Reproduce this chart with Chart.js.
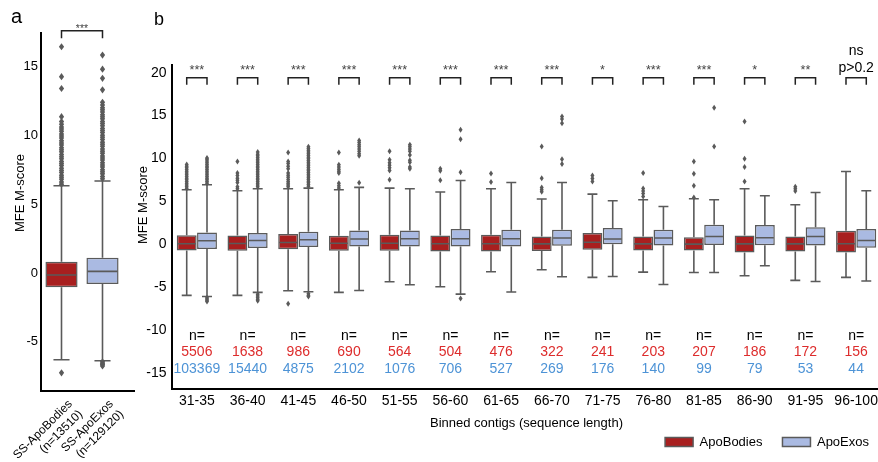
<!DOCTYPE html>
<html>
<head>
<meta charset="utf-8">
<script src="https://cdn.jsdelivr.net/npm/chart.js@4.4.0/dist/chart.umd.min.js"></script>
<style>
  html, body { margin: 0; padding: 0; background: #fff; overflow: hidden; width: 878px; height: 462px; }
  #wrap-a { position: absolute; left: 0; top: 0; width: 140px; height: 462px; }
  #wrap-b { position: absolute; left: 130px; top: 0; width: 759px; height: 462px; }
  .letra { position: absolute; font-family: Arial, "Liberation Sans", sans-serif; color: #000; z-index: 5; }
  .titulo-y { position: absolute; width: 120px; height: 16px; line-height: 16px; text-align: center;
    font: 13px Arial, "Liberation Sans", sans-serif; color: #000; transform: rotate(-90deg); z-index: 5; }
</style>
</head>
<body>
<div id="wrap-a"><canvas id="grafico-a"></canvas></div>
<div id="wrap-b"><canvas id="grafico-b"></canvas></div>
<div class="letra" style="left:11px;top:6px;font-size:20px;line-height:20px">a</div>
<div class="letra" style="left:154px;top:10px;font-size:18px;line-height:18px">b</div>
<div class="titulo-y" style="left:-40px;top:185px">MFE M-score</div>
<div class="titulo-y" style="left:83px;top:197px">MFE M-score</div>
<script>
// ---- panel a: all contigs ----
const catsA = [['SS-ApoBodies', '(n=13510)'], ['SS-ApoExos', '(n=129120)']]
const q1A = [-1.04, -0.8]
const medA = [-0.15, 0.12]
const q3A = [0.82, 1.1]
const loA = [-6.3, -6.37]
const hiA = [6.34, 6.68]
const outA = [
  [16.43, 14.26, 13.4, 11.35, 11.0, 10.8, 10.6, 10.45, 10.3, 10.1, 9.95, 9.8, 9.6, 9.45, 9.3, 9.1, 8.95, 8.8, 8.6, 8.45, 8.3, 8.1, 7.95, 7.8, 7.6, 7.45, 7.3, 7.1, 6.95, 6.8, 6.6, 6.45, -7.25],
  [15.83, 14.8, 14.14, 13.3, 12.4, 12.2, 12.0, 11.85, 11.7, 11.5, 11.35, 11.2, 11.0, 10.85, 10.7, 10.5, 10.35, 10.2, 10.0, 9.85, 9.7, 9.5, 9.35, 9.2, 9.0, 8.85, 8.7, 8.5, 8.35, 8.2, 8.0, 7.85, 7.7, 7.5, 7.35, 7.2, 7.0, 6.85, -6.45, -6.55, -6.65, -6.75]
]
const sigA = '***'

// ---- panel b: binned by length ----
const bins = ['31-35', '36-40', '41-45', '46-50', '51-55', '56-60', '61-65', '66-70', '71-75', '76-80', '81-85', '86-90', '91-95', '96-100']
const q1Bodies = [-0.75, -0.77, -0.6, -0.77, -0.77, -0.85, -0.85, -0.8, -0.65, -0.73, -0.73, -0.97, -0.87, -0.97]
const medBodies = [0.05, 0.08, 0.2, 0.1, 0.1, 0.05, 0.05, 0.03, 0.22, 0.03, 0.0, 0.03, 0.03, 0.05]
const q3Bodies = [1.05, 1.0, 1.18, 0.98, 1.1, 1.02, 1.1, 0.9, 1.3, 0.9, 0.8, 1.02, 0.9, 1.56]
const loBodies = [-5.98, -5.98, -5.44, -5.63, -4.39, -4.97, -3.22, -2.99, -3.88, -3.26, -3.3, -3.69, -4.23, -3.88]
const hiBodies = [6.35, 6.23, 6.46, 6.35, 6.54, 6.08, 6.46, 5.26, 5.84, 5.18, 5.3, 6.46, 4.6, 8.48]
const outBodies = [
  [6.5, 6.7, 6.9, 7.1, 7.3, 7.5, 7.7, 7.9, 8.1, 8.3, 8.5, 8.7, 8.9, 9.1, 9.3],
  [9.65, 8.3, 8.0, 7.7, 7.45, 7.2, 6.7, 6.45],
  [10.7, 9.65, 9.4, 9.1, 8.8, 8.3, 8.05, 7.8, 7.55, 7.3, 7.1, 6.9, 6.7, -6.95],
  [10.7, 9.26, 9.0, 8.75, 8.5, 8.3, 7.1, 6.8, 6.55],
  [10.85, 9.85, 9.5, 9.2, 8.9, 8.6, 7.5],
  [8.8, 8.55, 7.45],
  [8.25, 7.25],
  [11.4, 7.7, 6.6, 6.35, 6.1],
  [8.0, 7.65, 7.3],
  [8.3, 6.5, 6.2, 5.9, 5.55],
  [9.65, 8.2, 6.8, 5.45],
  [14.3, 9.95, 9.0, 7.3],
  [6.7, 6.45, 6.2],
  []
]
const q1Exos = [-0.57, -0.45, -0.34, -0.27, -0.27, -0.27, -0.27, -0.19, 0.0, -0.17, -0.1, -0.12, -0.17, -0.42]
const medExos = [0.4, 0.43, 0.51, 0.6, 0.63, 0.63, 0.63, 0.71, 0.6, 0.71, 0.9, 0.75, 0.9, 0.42]
const q3Exos = [1.37, 1.3, 1.45, 1.6, 1.6, 1.76, 1.68, 1.68, 1.88, 1.68, 2.26, 2.22, 1.98, 1.76]
const loExos = [-6.1, -5.63, -5.55, -5.4, -4.74, -5.83, -5.59, -3.8, -3.77, -4.7, -3.3, -2.52, -4.35, -4.3]
const hiExos = [6.93, 6.46, 6.54, 6.62, 6.46, 7.43, 7.2, 7.2, 5.06, 4.4, 5.18, 5.65, 6.03, 6.23]
const outExos = [
  [7.1, 7.3, 7.5, 7.7, 7.9, 8.1, 8.3, 8.5, 8.7, 8.9, 9.1, 9.3, 9.5, 9.7, 9.9, 10.05, -6.25, -6.4, -6.55, -6.7],
  [6.7, 6.9, 7.1, 7.3, 7.5, 7.7, 7.9, 8.1, 8.3, 8.5, 8.7, 8.9, 9.1, 9.3, 9.5, 9.7, 9.9, 10.1, 10.3, 10.5, 10.75, -5.85, -6.05, -6.25, -6.45, -6.6],
  [6.75, 6.95, 7.15, 7.35, 7.55, 7.75, 7.95, 8.15, 8.35, 8.55, 8.75, 8.95, 9.15, 9.35, 9.55, 9.75, 9.95, 10.15, 10.35, 10.55, 10.75, 10.95, 11.15, 11.35, -5.8, -6.0, -6.1],
  [12.1, 11.85, 11.6, 11.35, 11.1, 10.85, 10.55, 10.3, 7.15],
  [11.6, 11.35, 11.1, 10.85, 10.4, 9.8, 9.55, 9.0, 8.8],
  [13.35, 12.25, 8.4, -6.35],
  [],
  [14.9, 14.6, 14.1, 9.9, 9.35],
  [],
  [],
  [15.9, 11.4],
  [],
  [],
  []
]
const nBodies = [5506, 1638, 986, 690, 564, 504, 476, 322, 241, 203, 207, 186, 172, 156]
const nExos = [103369, 15440, 4875, 2102, 1076, 706, 527, 269, 176, 140, 99, 79, 53, 44]
const sigB = ['***', '***', '***', '***', '***', '***', '***', '***', '*', '***', '***', '*', '**', ['ns', 'p>0.2']]

const ROJO = '#a81f1f'
const AZUL = '#aabae2'
const BORDE = '#5a5a5a'
const FUENTE = 'Arial, "Liberation Sans", sans-serif'

Chart.defaults.font.family = FUENTE
Chart.defaults.color = '#000'

// whiskers, caps, median and outlier diamonds for one box
function dibujarCaja(ctx, ys, x, mitad, st, mw, mh) {
  const pQ1 = ys.getPixelForValue(st.q1)
  const pQ3 = ys.getPixelForValue(st.q3)
  const pMed = ys.getPixelForValue(st.med)
  const pLo = ys.getPixelForValue(st.lo)
  const pHi = ys.getPixelForValue(st.hi)
  ctx.strokeStyle = BORDE
  ctx.lineWidth = 1.6
  ctx.beginPath()
  ctx.moveTo(x, pQ3); ctx.lineTo(x, pHi)
  ctx.moveTo(x - mitad / 2, pHi); ctx.lineTo(x + mitad / 2, pHi)
  ctx.moveTo(x, pQ1); ctx.lineTo(x, pLo)
  ctx.moveTo(x - mitad / 2, pLo); ctx.lineTo(x + mitad / 2, pLo)
  ctx.moveTo(x - mitad + 1, pMed); ctx.lineTo(x + mitad - 1, pMed)
  ctx.stroke()
  ctx.fillStyle = BORDE
  st.out.forEach(v => {
    const py = ys.getPixelForValue(v)
    ctx.beginPath()
    ctx.moveTo(x, py - mh); ctx.lineTo(x + mw, py); ctx.lineTo(x, py + mh); ctx.lineTo(x - mw, py)
    ctx.closePath()
    ctx.fill()
  })
}

function dibujarCorchete(ctx, xa, xb, yTop, yBot, texto, fuenteTxt, colorTxt, base, interlinea) {
  ctx.strokeStyle = '#222'
  ctx.lineWidth = 1.5
  ctx.beginPath()
  ctx.moveTo(xa, yBot); ctx.lineTo(xa, yTop); ctx.lineTo(xb, yTop); ctx.lineTo(xb, yBot)
  ctx.stroke()
  const lineas = Array.isArray(texto) ? texto : [texto]
  ctx.font = fuenteTxt
  ctx.fillStyle = colorTxt
  ctx.textAlign = 'center'
  ctx.textBaseline = 'alphabetic'
  lineas.forEach((l, k) => {
    ctx.fillText(l, (xa + xb) / 2, base - (lineas.length - 1 - k) * interlinea)
  })
}

function filtrarTicks(s) {
  s.ticks = s.ticks.filter(t => t.value % 5 === 0)
}

// ---- panel a ----
const extrasA = {
  id: 'extrasA',
  afterDatasetsDraw(chart) {
    const ctx = chart.ctx
    const ys = chart.scales.y
    const meta = chart.getDatasetMeta(0)
    ctx.save()
    meta.data.forEach((bar, i) => {
      dibujarCaja(ctx, ys, bar.x, bar.width / 2,
        { q1: q1A[i], q3: q3A[i], med: medA[i], lo: loA[i], hi: hiA[i], out: outA[i] }, 2.6, 3.6)
    })
    ctx.restore()
  },
  afterDraw(chart) {
    const ctx = chart.ctx
    const ys = chart.scales.y
    const area = chart.chartArea
    const meta = chart.getDatasetMeta(0)
    ctx.save()
    // x axis line, runs a bit past the last box as in the original
    ctx.strokeStyle = '#000'
    ctx.lineWidth = 2
    ctx.beginPath()
    ctx.moveTo(area.left - 1, area.bottom)
    ctx.lineTo(area.right + 12, area.bottom)
    ctx.stroke()
    const yTop = ys.getPixelForValue(17.6)
    const yBot = ys.getPixelForValue(17.05)
    dibujarCorchete(ctx, meta.data[0].x, meta.data[1].x, yTop, yBot, sigA, '10.5px ' + FUENTE, '#444', yTop + 1.7, 0)
    ctx.restore()
  }
}

new Chart(document.getElementById('grafico-a'), {
  type: 'bar',
  data: {
    labels: catsA,
    datasets: [{
      label: 'all',
      data: catsA.map((c, i) => [q1A[i], q3A[i]]),
      backgroundColor: [ROJO, AZUL],
      borderColor: BORDE,
      borderWidth: 1.5,
      borderSkipped: false,
      categoryPercentage: 0.8,
      barPercentage: 0.98
    }]
  },
  options: {
    responsive: true,
    maintainAspectRatio: false,
    animation: false,
    events: [],
    layout: { padding: { top: 33, right: 17, bottom: 0, left: 0 } },
    plugins: { legend: { display: false }, tooltip: { enabled: false } },
    scales: {
      x: {
        grid: { display: false, drawTicks: false },
        border: { display: false },
        ticks: { minRotation: 45, maxRotation: 45, autoSkip: false, padding: 6, labelOffset: 9, font: { size: 12 } },
        afterFit(s) { s.height = 71; s.paddingLeft = 0; s.paddingRight = 0 }
      },
      y: {
        min: -8.57,
        max: 17.43,
        grid: { display: false, drawTicks: false },
        border: { display: true, color: '#000', width: 2 },
        ticks: { stepSize: 5, includeBounds: false, padding: 3, font: { size: 13 } },
        afterBuildTicks: filtrarTicks,
        afterFit(s) { s.width = 41; s.paddingTop = 0; s.paddingBottom = 0 }
      }
    }
  },
  plugins: [extrasA]
})

// ---- panel b ----
const extrasB = {
  id: 'extrasB',
  afterDatasetsDraw(chart) {
    const ctx = chart.ctx
    const ys = chart.scales.y
    const grupos = [
      { q1: q1Bodies, q3: q3Bodies, med: medBodies, lo: loBodies, hi: hiBodies, out: outBodies },
      { q1: q1Exos, q3: q3Exos, med: medExos, lo: loExos, hi: hiExos, out: outExos }
    ]
    ctx.save()
    grupos.forEach((g, di) => {
      chart.getDatasetMeta(di).data.forEach((bar, i) => {
        dibujarCaja(ctx, ys, bar.x, bar.width / 2,
          { q1: g.q1[i], q3: g.q3[i], med: g.med[i], lo: g.lo[i], hi: g.hi[i], out: g.out[i] }, 2, 3)
      })
    })
    ctx.restore()
  },
  afterDraw(chart) {
    const ctx = chart.ctx
    const ys = chart.scales.y
    const xs = chart.scales.x
    const rojos = chart.getDatasetMeta(0).data
    const azules = chart.getDatasetMeta(1).data
    const yTop = ys.getPixelForValue(19.4)
    const yBot = ys.getPixelForValue(18.6)
    ctx.save()
    bins.forEach((b, i) => {
      const s = sigB[i]
      const esTexto = Array.isArray(s)
      dibujarCorchete(ctx, rojos[i].x, azules[i].x, yTop, yBot, s,
        esTexto ? '14px ' + FUENTE : '12.6px ' + FUENTE, esTexto ? '#000' : '#444',
        esTexto ? yTop - 5.5 : yTop - 3.6, 17)
      const cx = xs.getPixelForValue(i)
      ctx.font = '14px ' + FUENTE
      ctx.textAlign = 'center'
      ctx.textBaseline = 'middle'
      ctx.fillStyle = '#000'
      ctx.fillText('n=', cx, ys.getPixelForValue(-10.77))
      ctx.fillStyle = '#dd2c2c'
      ctx.fillText(String(nBodies[i]), cx, ys.getPixelForValue(-12.64))
      ctx.fillStyle = '#4d93d6'
      ctx.fillText(String(nExos[i]), cx, ys.getPixelForValue(-14.6))
    })
    ctx.restore()
  }
}

new Chart(document.getElementById('grafico-b'), {
  type: 'bar',
  data: {
    labels: bins,
    datasets: [
      {
        label: 'ApoBodies',
        data: bins.map((b, i) => [q1Bodies[i], q3Bodies[i]]),
        backgroundColor: ROJO,
        borderColor: BORDE,
        borderWidth: 1.5,
        borderSkipped: false,
        categoryPercentage: 0.8,
        barPercentage: 0.98
      },
      {
        label: 'ApoExos',
        data: bins.map((b, i) => [q1Exos[i], q3Exos[i]]),
        backgroundColor: AZUL,
        borderColor: BORDE,
        borderWidth: 1.5,
        borderSkipped: false,
        categoryPercentage: 0.8,
        barPercentage: 0.98
      }
    ]
  },
  options: {
    responsive: true,
    maintainAspectRatio: false,
    animation: false,
    events: [],
    layout: { padding: { top: 65, right: 0, bottom: 3.5, left: 0 } },
    plugins: {
      tooltip: { enabled: false },
      legend: {
        position: 'bottom',
        align: 'end',
        labels: { boxWidth: 28, boxHeight: 9, padding: 20, color: '#000', font: { size: 13 } }
      }
    },
    scales: {
      x: {
        grid: { display: false, drawTicks: false },
        border: { display: true, color: '#000', width: 2 },
        ticks: { padding: 4, autoSkip: false, maxRotation: 0, font: { size: 14 } },
        title: { display: true, text: 'Binned contigs (sequence length)', font: { size: 13 }, padding: { top: 0, bottom: -15.3 } },
        afterFit(s) { s.height = 26.5 }
      },
      y: {
        min: -16.9,
        max: 20.9,
        grid: { display: false, drawTicks: false },
        border: { display: true, color: '#000', width: 2 },
        ticks: { stepSize: 5, includeBounds: false, padding: 5, font: { size: 14 } },
        afterBuildTicks: filtrarTicks,
        afterFit(s) { s.width = 41.5 }
      },
      // empty strip on the right so the plot area stops where the original does
      yR: {
        position: 'right',
        grid: { display: false, drawTicks: false },
        border: { display: false },
        ticks: { display: false },
        afterFit(s) { s.width = 7.5 }
      }
    }
  },
  plugins: [extrasB]
})
</script>
</body>
</html>
